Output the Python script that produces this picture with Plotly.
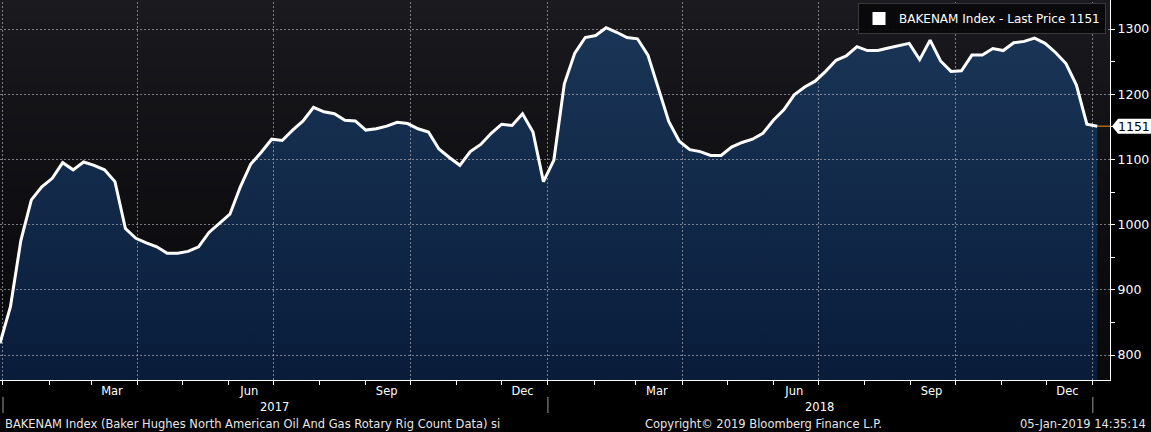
import math
import plotly.graph_objects as go
import pandas as pd

# ---------------- data ----------------
series_name = "BAKENAM Index - Last Price"
start_date = "2016-12-30"          # first weekly observation
values = [
    818, 874, 976, 1038, 1058, 1071, 1095, 1084, 1096, 1091,
    1084, 1066, 994, 979, 972, 966, 956, 956, 959, 966,
    988, 1002, 1016, 1058, 1093, 1111, 1131, 1129, 1145, 1159,
    1180, 1173, 1170, 1160, 1159, 1145, 1147, 1151, 1157, 1155,
    1147, 1142, 1116, 1103, 1091, 1112, 1123, 1140, 1154, 1152,
    1170, 1142, 1066, 1099, 1216, 1263, 1287, 1290, 1302, 1295,
    1287, 1285, 1260, 1209, 1158, 1128, 1115, 1112, 1106, 1106,
    1119, 1126, 1131, 1140, 1160, 1176, 1199, 1211, 1220, 1235,
    1252, 1259, 1273, 1267, 1267, 1271, 1274, 1278, 1253, 1283,
    1251, 1235, 1236, 1260, 1260, 1270, 1267, 1279, 1281, 1286,
    1278, 1264, 1247, 1214, 1154, 1151,
]
y_ticks = [800, 900, 1000, 1100, 1200, 1300]
month_labels = ["Mar", "Jun", "Sep", "Dec"]
month_numbers = [3, 6, 9, 12]
year_labels = [2017, 2018]
year_bounds = [2017, 2018, 2019]
footer_left = "BAKENAM Index (Baker Hughes North American Oil And Gas Rotary Rig Count Data) si"
footer_mid = "Copyright\u00a9 2019 Bloomberg Finance L.P."
footer_right = "05-Jan-2019 14:35:14"

dates = pd.date_range(start_date, periods=len(values), freq="7D")
last_value = values[-1]

# ---------------- layout geometry ----------------
W, H = 1151, 432
plot_bottom_px = 380
plot_right_px = 1110
dom0 = (H - plot_bottom_px) / H
y_range = [761.7, 1344.5]
x_range = ["2016-12-30", "2019-01-12 12:00"]
FONT = "DejaVu Sans"
px_per_unit = plot_bottom_px / (y_range[1] - y_range[0])
grid_col = "rgba(175,175,185,0.68)"

xr0, xr1 = pd.Timestamp(x_range[0]), pd.Timestamp(x_range[1])
xspan = xr1 - xr0


def crisp_y(v):
    px = (y_range[1] - v) * px_per_unit
    s = math.floor(px) + 0.5
    return y_range[1] - s / px_per_unit


def crisp_x(d):
    px = (d - xr0) / xspan * plot_right_px
    s = math.floor(px) + 0.5
    return xr0 + xspan * (s / plot_right_px)


fig = go.Figure()

# 1) gradient area fill (no outline)
fig.add_trace(go.Scatter(
    x=dates, y=values, mode="lines",
    line=dict(color="rgba(0,0,0,0)", width=0),
    fill="tozeroy",
    fillgradient=dict(type="vertical",
                      colorscale=[[0, "#091c3a"], [1, "#1b3759"]],
                      start=y_range[0], stop=y_range[1]),
    showlegend=False, hoverinfo="skip",
))

# 2) dotted grid drawn over the fill (from tick values / quarter boundaries)
gx, gy = [], []
for v in y_ticks:
    cy = crisp_y(v)
    gx += [x_range[0], x_range[1], None]
    gy += [cy, cy, None]
for d in pd.date_range("2017-01-01", "2019-01-01", freq="QS"):
    cx = crisp_x(d)
    gx += [cx, cx, None]
    gy += [y_range[0], y_range[1], None]
fig.add_trace(go.Scatter(
    x=gx, y=gy, mode="lines",
    line=dict(color=grid_col, width=1, dash="2px,2px"),
    showlegend=False, hoverinfo="skip", connectgaps=False,
))

# 3) white price line on top
fig.add_trace(go.Scatter(
    x=dates, y=values, mode="lines",
    line=dict(color="white", width=3),
    showlegend=False, hoverinfo="skip",
))

# legend entry (white square)
fig.add_trace(go.Scatter(
    x=[None], y=[None], mode="markers",
    marker=dict(symbol="square", size=13, color="white"),
    name=f"{series_name} {last_value}",
))

shapes = []
# background vertical gradient (plot area)
N = 40
top = (27, 27, 31)
bot = (10, 10, 13)
for k in range(N):
    t0, t1 = k / N, (k + 1) / N
    tm = (t0 + t1) / 2
    f = tm ** 1.6
    c = tuple(int(round(bot[j] + (top[j] - bot[j]) * f)) for j in range(3))
    shapes.append(dict(type="rect", xref="x domain", yref="y domain",
                       x0=0, x1=1, y0=t0, y1=t1 + 0.001,
                       fillcolor=f"rgb{c}", line=dict(width=0), layer="below"))

# year separators below the axis
for yr in year_bounds:
    shapes.append(dict(type="line", xref="x", yref="paper",
                       x0=f"{yr}-01-01", x1=f"{yr}-01-01",
                       y0=(H - 413) / H, y1=(H - 397) / H,
                       line=dict(color="#9a9a9a", width=1)))
# orange last-price line
shapes.append(dict(type="line", xref="x", yref="y", x0=dates[-1], x1=x_range[1],
                   y0=last_value, y1=last_value, line=dict(color="#f0901e", width=1)))
# last-price tag
hh = 7.5 / px_per_unit
xa, xb, xc = 1112 / plot_right_px, 1118 / plot_right_px, 1151 / plot_right_px
shapes.append(dict(type="path", xref="paper", yref="y",
                   path=(f"M {xa},{last_value} L {xb},{last_value + hh} L {xc},{last_value + hh} "
                         f"L {xc},{last_value - hh} L {xb},{last_value - hh} Z"),
                   fillcolor="white", line=dict(width=0)))

annotations = []
annotations.append(dict(xref="paper", yref="y", x=(xb + xc) / 2, y=last_value,
                        text=str(last_value), showarrow=False, xanchor="center", yanchor="middle",
                        font=dict(color="black", size=12.5, family=FONT)))
for yr in year_labels:
    annotations.append(dict(xref="x", yref="paper", x=f"{yr}-07-02", y=(H - 407) / H,
                            text=str(yr), showarrow=False, xanchor="center", yanchor="middle",
                            font=dict(color="white", size=11.5, family=FONT)))
annotations.append(dict(xref="paper", yref="paper", x=3 / plot_right_px, y=(H - 424) / H,
                        text=footer_left, showarrow=False, xanchor="left", yanchor="middle",
                        font=dict(color="#e6e6e6", size=11.5, family=FONT)))
annotations.append(dict(xref="paper", yref="paper", x=643 / plot_right_px, y=(H - 424) / H,
                        text=footer_mid, showarrow=False, xanchor="left", yanchor="middle",
                        font=dict(color="#e6e6e6", size=11.5, family=FONT)))
annotations.append(dict(xref="paper", yref="paper", x=1148 / plot_right_px, y=(H - 424) / H,
                        text=footer_right, showarrow=False, xanchor="right", yanchor="middle",
                        font=dict(color="#e6e6e6", size=11.5, family=FONT)))

tickvals = [f"{yr}-{m:02d}-15" for yr in year_labels for m in month_numbers]
ticktext = [lab for yr in year_labels for lab in month_labels]

fig.update_layout(
    width=W, height=H,
    margin=dict(l=0, r=W - plot_right_px, t=0, b=0),
    paper_bgcolor="black", plot_bgcolor="rgb(10,10,13)",
    font=dict(family=FONT, color="white"),
    shapes=shapes, annotations=annotations,
    showlegend=True,
    legend=dict(x=1106 / plot_right_px, xanchor="right", y=1 - 3 / H, yanchor="top",
                bgcolor="rgba(8,8,10,0.92)", bordercolor="#3a3a3a", borderwidth=1,
                font=dict(color="white", size=12, family=FONT), itemwidth=30),
    xaxis=dict(
        range=x_range, type="date",
        tickmode="array", tickvals=tickvals, ticktext=ticktext,
        ticks="outside", ticklen=0, tickcolor="rgba(0,0,0,0)",
        tickfont=dict(color="white", size=11.5, family=FONT),
        showgrid=False, zeroline=False,
        showline=True, linecolor="white", linewidth=1,
        minor=dict(dtick="M1", tick0="2017-01-01", ticks="outside", ticklen=4,
                   tickcolor="white", showgrid=False),
    ),
    yaxis=dict(
        domain=[dom0, 1], range=y_range, side="right",
        tickmode="array", tickvals=y_ticks,
        tickprefix="\u25b8",
        ticks="outside", ticklen=4, tickcolor="white",
        tickfont=dict(color="white", size=12.5, family=FONT),
        showgrid=False, zeroline=False,
        showline=True, linecolor="white", linewidth=1,
        minor=dict(dtick=50, tick0=800, ticks="outside", ticklen=4,
                   tickcolor="white", showgrid=False),
    ),
)

fig.write_html(
    "out.html",
    config={"displayModeBar": False},
    post_script="document.body.style.margin='0';document.body.style.padding='0';"
                "document.documentElement.style.overflow='hidden';",
)
